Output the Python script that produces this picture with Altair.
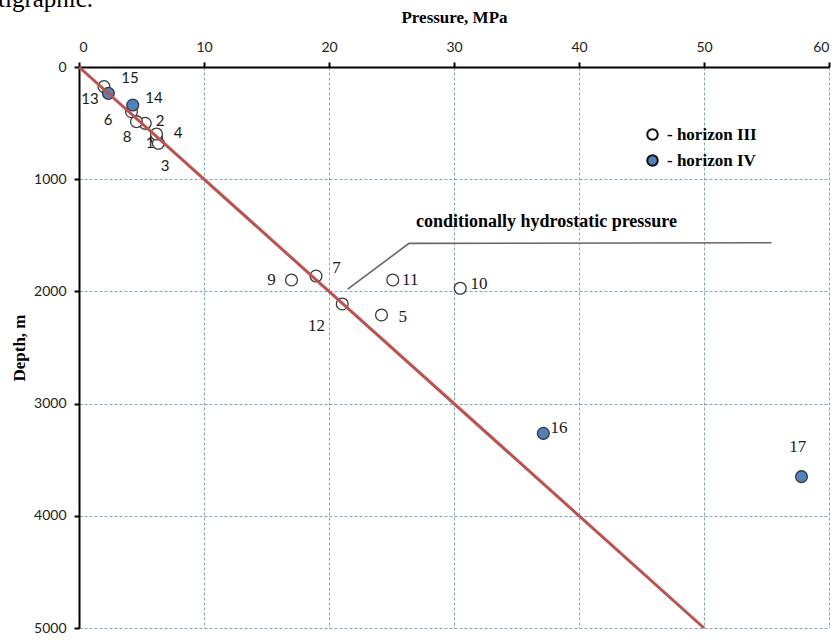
import altair as alt
import pandas as pd

# ---- data ----
well_ids = [1, 2, 3, 4, 5, 6, 7, 8, 9, 10, 11, 12, 13, 14, 15, 16, 17]
pressure = [6.2, 5.3, 6.35, 6.2, 24.2, 4.2, 18.96, 4.6, 17.0, 30.5, 25.1, 21.06, 2.0, 4.3, 2.35, 37.15, 57.8]
depth = [636, 502, 680, 597, 2210, 398, 1863, 487, 1898, 1972, 1898, 2112, 175, 339, 235, 3265, 3651]
horizon = ["horizon III"] * 13 + ["horizon IV"] * 4

label_p = [5.68, 6.48, 6.88, 7.92, 25.9, 2.32, 20.6, 3.84, 15.4, 32.0, 26.5, 19.0, 0.88, 6.0, 4.08, 38.4, 57.5]
label_d = [677, 481, 882, 588, 2228, 472, 1791, 624, 1898, 1934, 1898, 2308, 285, 276, 98, 3217, 3387]
sans_labels = [1, 2, 3, 4, 6, 8, 13, 14, 15]

hydro_p = [0, 50]
hydro_d = [0, 5000]

leader_p = [21.5, 26.4, 55.4]
leader_d = [1979, 1572, 1566]
annot_text = "conditionally hydrostatic pressure"
annot_p = [37.4]
annot_d = [1381]

x_ticks = [0, 10, 20, 30, 40, 50, 60]
y_ticks = [0, 1000, 2000, 3000, 4000, 5000]

pts = pd.DataFrame({"id": well_ids, "p": pressure, "d": depth, "h": horizon})
labs = pd.DataFrame({"id": well_ids, "p": label_p, "d": label_d})
hydro = pd.DataFrame({"p": hydro_p, "d": hydro_d})
leader = pd.DataFrame({"p": leader_p, "d": leader_d, "o": list(range(len(leader_p)))})
annot = pd.DataFrame({"p": annot_p, "d": annot_d, "t": [annot_text]})

xs = alt.Scale(domain=[0, 60], nice=False, zero=False)
ys = alt.Scale(domain=[0, 5000], reverse=True, nice=False, zero=False)

X = alt.X("p:Q", scale=xs,
          axis=alt.Axis(orient="top", values=x_ticks, format="d", title="Pressure, MPa",
                        titlePadding=14))
Y = alt.Y("d:Q", scale=ys,
          axis=alt.Axis(values=y_ticks, format="d", title="Depth, m", titlePadding=5))

base_x = alt.X("p:Q", scale=xs)
base_y = alt.Y("d:Q", scale=ys)

points = alt.Chart(pts).mark_point(filled=True, shape="circle", size=140, stroke="#3a3a3a",
                                   strokeWidth=1.3, opacity=1).encode(
    x=X, y=Y,
    fill=alt.Fill("h:N", scale=alt.Scale(domain=["horizon III", "horizon IV"],
                                         range=["#ffffff", "#4f81bd"]),
                  legend=alt.Legend(orient="none", legendX=565, legendY=59, title=None,
                                    labelExpr="'- ' + datum.label",
                                    labelFont="Liberation Serif", labelFontWeight="bold",
                                    labelFontSize=17, labelColor="#000000",
                                    symbolStrokeColor="#111111", symbolStrokeWidth=2,
                                    symbolSize=110, rowPadding=7, labelOffset=6)),
)

line = alt.Chart(hydro).mark_line(color="#c0504d", strokeWidth=3).encode(x=base_x, y=base_y)

leader_line = alt.Chart(leader).mark_line(color="#666666", strokeWidth=1.6).encode(
    x=base_x, y=base_y, order="o:Q")

annot_txt = alt.Chart(annot).mark_text(font="Liberation Serif", fontWeight="bold", fontSize=18,
                                       color="#000000").encode(x=base_x, y=base_y, text="t:N")

lab_sans = alt.Chart(labs).transform_filter(
    alt.FieldOneOfPredicate(field="id", oneOf=sans_labels)
).mark_text(font="Lato", fontSize=15, color="#1a1a1a").encode(
    x=base_x, y=base_y, text="id:N")

lab_serif = alt.Chart(labs).transform_filter(
    ~alt.FieldOneOfPredicate(field="id", oneOf=sans_labels)
).mark_text(font="Liberation Serif", fontSize=17, color="#1a1a1a").encode(
    x=base_x, y=base_y, text="id:N")

fragment = alt.Chart(pd.DataFrame({"t": ["tigraphic."]})).mark_text(
    font="Liberation Serif", fontSize=25, align="left", baseline="alphabetic", color="#000000"
).encode(x=alt.value(-81), y=alt.value(-60), text="t:N")

chart = alt.layer(points, line, leader_line, annot_txt, lab_sans, lab_serif, fragment).properties(
    width=750, height=561,
    padding={"left": 79, "top": 67, "right": 8, "bottom": 12},
    autosize=alt.AutoSizeParams(type="none"),
).configure_view(stroke=None).configure_axis(
    domainColor="#000000", domainWidth=2, tickColor="#000000", tickWidth=2, tickSize=5,
    gridColor="#4f81bd", gridDash=[3, 2], gridWidth=0.8, gridOpacity=0.9,
    labelFont="Lato", labelFontSize=14, labelColor="#222222", labelPadding=8,
    titleFont="Liberation Serif", titleFontWeight="bold", titleFontSize=17, titleColor="#000000",
)

chart.save("out.html", embed_options={"renderer": "svg", "actions": False})
